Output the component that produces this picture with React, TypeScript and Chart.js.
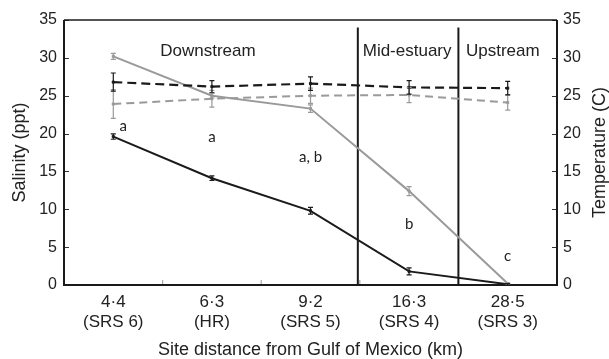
import { useEffect, useRef } from "react";
import { Chart, registerables } from "chart.js";
Chart.register(...registerables);

const categories = [
  ["4·4", "(SRS 6)"],
  ["6·3", "(HR)"],
  ["9·2", "(SRS 5)"],
  ["16·3", "(SRS 4)"],
  ["28·5", "(SRS 3)"],
];
const salinityBlack = [19.6, 14.1, 9.8, 1.8, 0.1];
const salinityBlackErr = [0.35, 0.3, 0.45, 0.45, 0.1];
const salinityGray = [30.2, 25.0, 23.3, 12.4, 0.2];
const salinityGrayErr = [0.4, 0.3, 0.5, 0.6, 0.1];
const tempBlack = [26.8, 26.2, 26.6, 26.1, 26.0];
const tempBlackErr = [1.2, 0.8, 0.9, 0.9, 0.9];
const tempGray = [23.9, 24.6, 25.0, 25.1, 24.1];
const tempGrayErr = [1.9, 1.1, 1.0, 1.0, 1.0];
const letters = ["a", "a", "a, b", "b", "c"];
const letterX = [0.1, 1, 2, 3, 4];
const letterY = [21.0, 19.5, 16.9, 8.1, 3.8];
const regions = ["Downstream", "Mid-estuary", "Upstream"];
const regionX = [0.96, 2.98, 3.95];
const regionY = 30.8;
const dividers = [2.48, 3.5];
const yTicks = [0, 5, 10, 15, 20, 25, 30, 35];
const rightTitle = "Temperature (C)";

const FONT = "'Liberation Sans', Arial, sans-serif";
const BLACK = "#1a1a1a";
const GRAY = "#9a9a9a";

const errors = [tempGrayErr, tempBlackErr, salinityGrayErr, salinityBlackErr];

const decor = {
  id: "decor",
  beforeDatasetsDraw(chart: any) {
    const { ctx, chartArea: a, scales } = chart;
    const x = scales.x;
    const y = scales.y;
    ctx.save();
    // ticks
    ctx.strokeStyle = "#333";
    ctx.lineWidth = 1.2;
    yTicks.forEach((v) => {
      const py = Math.round(y.getPixelForValue(v)) + 0.5;
      ctx.beginPath();
      ctx.moveTo(a.left, py);
      ctx.lineTo(a.left + 5, py);
      ctx.moveTo(a.right, py);
      ctx.lineTo(a.right - 5, py);
      ctx.stroke();
    });
    ctx.strokeStyle = "#aaa";
    [0.5, 1.5, 2.5, 3.5].forEach((v) => {
      const px = x.getPixelForValue(v);
      ctx.beginPath();
      ctx.moveTo(px, a.bottom);
      ctx.lineTo(px, a.bottom - 5);
      ctx.stroke();
    });
    // dividers
    ctx.strokeStyle = BLACK;
    ctx.lineWidth = 2;
    dividers.forEach((v) => {
      const px = x.getPixelForValue(v);
      ctx.beginPath();
      ctx.moveTo(px, y.getPixelForValue(34));
      ctx.lineTo(px, a.bottom);
      ctx.stroke();
    });
    // frame
    ctx.lineWidth = 2;
    ctx.beginPath();
    ctx.moveTo(a.left, a.top);
    ctx.lineTo(a.left, a.bottom);
    ctx.lineTo(a.right, a.bottom);
    ctx.lineTo(a.right, a.top);
    ctx.stroke();
    ctx.lineWidth = 1.5;
    ctx.beginPath();
    ctx.moveTo(a.left, a.top);
    ctx.lineTo(a.right, a.top);
    ctx.stroke();
    // text
    ctx.fillStyle = "#222";
    ctx.textAlign = "center";
    ctx.textBaseline = "middle";
    ctx.font = `17px ${FONT}`;
    regions.forEach((r, i) => {
      ctx.fillText(r, x.getPixelForValue(regionX[i]), y.getPixelForValue(regionY));
    });
    ctx.font = `15px Lato, 'Open Sans', sans-serif`;
    letters.forEach((l, i) => {
      ctx.fillText(l, x.getPixelForValue(letterX[i]), y.getPixelForValue(letterY[i]));
    });
    // right axis title, reading bottom-to-top
    ctx.font = `18px ${FONT}`;
    ctx.translate(600, (a.top + a.bottom) / 2);
    ctx.rotate(-Math.PI / 2);
    ctx.fillText(rightTitle, 0, 0);
    ctx.restore();
  },
  afterDatasetsDraw(chart: any) {
    const { ctx } = chart;
    ctx.save();
    chart.data.datasets.forEach((ds: any, di: number) => {
      const meta = chart.getDatasetMeta(di);
      const ys = chart.scales[ds.yAxisID];
      ctx.strokeStyle = ds.borderColor;
      ctx.lineWidth = 1.2;
      ds.data.forEach((v: number, i: number) => {
        const e = errors[di][i];
        const px = meta.data[i].x;
        const t = ys.getPixelForValue(v + e);
        const b = ys.getPixelForValue(v - e);
        ctx.beginPath();
        ctx.moveTo(px, t);
        ctx.lineTo(px, b);
        ctx.moveTo(px - 2.5, t);
        ctx.lineTo(px + 2.5, t);
        ctx.moveTo(px - 2.5, b);
        ctx.lineTo(px + 2.5, b);
        ctx.stroke();
      });
    });
    ctx.restore();
  },
};

export default function App() {
  const ref = useRef<HTMLCanvasElement>(null);
  useEffect(() => {
    const tickFont = { family: FONT, size: 16 };
    const chart = new Chart(ref.current!, {
      type: "line",
      data: {
        labels: categories as any,
        datasets: [
          {
            label: "Temperature (gray)",
            data: tempGray,
            yAxisID: "y1",
            borderColor: GRAY,
            backgroundColor: GRAY,
            borderWidth: 2,
            borderDash: [8, 5],
            pointStyle: "rect",
            pointRadius: 1.5,
            pointBorderWidth: 1,
          },
          {
            label: "Temperature (black)",
            data: tempBlack,
            yAxisID: "y1",
            borderColor: BLACK,
            backgroundColor: BLACK,
            borderWidth: 2.2,
            borderDash: [9, 5],
            pointStyle: "rect",
            pointRadius: 1.5,
            pointBorderWidth: 1,
          },
          {
            label: "Salinity (gray)",
            data: salinityGray,
            yAxisID: "y",
            borderColor: GRAY,
            backgroundColor: GRAY,
            borderWidth: 2,
            pointStyle: "rect",
            pointRadius: 1.5,
            pointBorderWidth: 1,
          },
          {
            label: "Salinity (black)",
            data: salinityBlack,
            yAxisID: "y",
            borderColor: BLACK,
            backgroundColor: BLACK,
            borderWidth: 2,
            pointStyle: "rect",
            pointRadius: 1.5,
            pointBorderWidth: 1,
          },
        ],
      },
      options: {
        responsive: false,
        animation: false,
        devicePixelRatio: 1,
        layout: { padding: { top: 20, left: 0, right: 0, bottom: 0 } },
        plugins: { legend: { display: false }, tooltip: { enabled: false } },
        scales: {
          x: {
            type: "category",
            offset: true,
            grid: { display: false, drawTicks: false },
            border: { display: false },
            ticks: { font: { family: FONT, size: 17 }, color: "#222", padding: 7, maxRotation: 0, autoSkip: false },
            title: {
              display: true,
              text: "Site distance from Gulf of Mexico (km)",
              font: { family: FONT, size: 18, lineHeight: 1 },
              color: "#222",
              padding: { top: 0, bottom: 0 },
            },
            afterFit: (s: any) => {
              s.height = 74;
            },
          },
          y: {
            position: "left",
            min: 0,
            max: 35,
            grid: { display: false, drawTicks: false },
            border: { display: false },
            ticks: { stepSize: 5, font: tickFont, color: "#222", padding: 7 },
            title: {
              display: true,
              text: "Salinity (ppt)",
              font: { family: FONT, size: 18, lineHeight: 1 },
              color: "#222",
              padding: { top: 11, bottom: 0 },
            },
            afterFit: (s: any) => {
              s.width = 64;
            },
          },
          y1: {
            position: "right",
            min: 0,
            max: 35,
            grid: { display: false, drawTicks: false },
            border: { display: false },
            ticks: { stepSize: 5, font: tickFont, color: "#222", padding: 6 },
            title: { display: false },
            afterFit: (s: any) => {
              s.width = 52;
            },
          },
        },
      },
      plugins: [decor],
    });
    return () => chart.destroy();
  }, []);
  return (
    <div style={{ position: "absolute", left: 0, top: 0, width: 609, height: 359 }}>
      <canvas ref={ref} width={609} height={359} style={{ display: "block" }} />
    </div>
  );
}
